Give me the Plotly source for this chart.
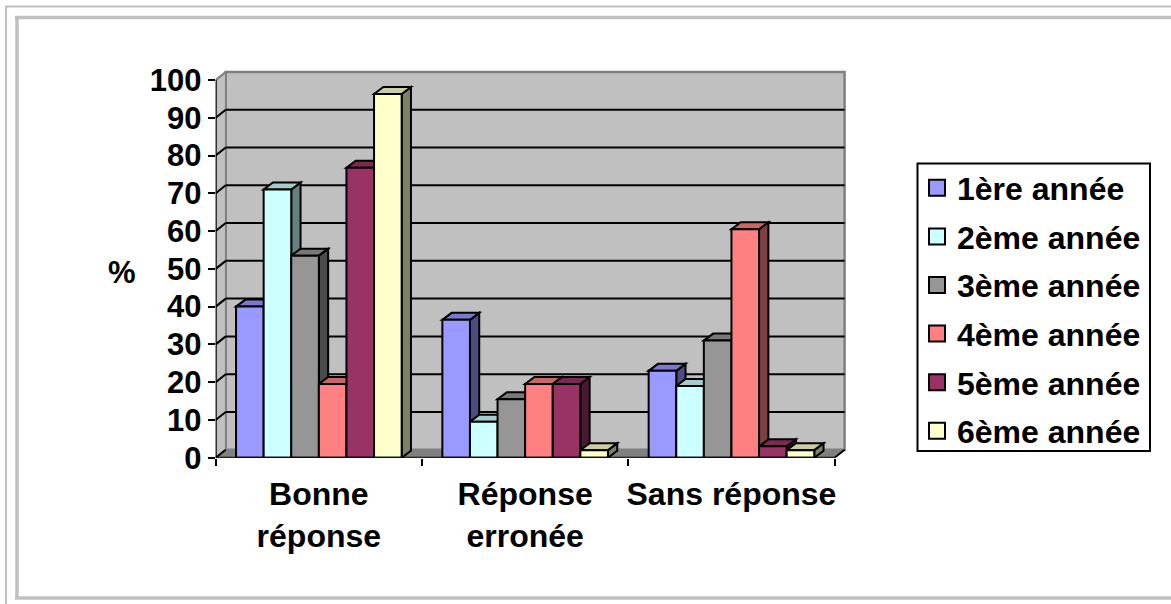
import plotly.graph_objects as go

categories = ["Bonne<br>réponse", "Réponse<br>erronée", "Sans réponse"]
series_names = ["1ère année", "2ème année", "3ème année", "4ème année", "5ème année", "6ème année"]
annee1 = [40, 36.5, 23]
annee2 = [71, 9.5, 19]
annee3 = [53.5, 15.5, 31]
annee4 = [19.5, 19.5, 60.5]
annee5 = [76.8, 19.5, 3]
annee6 = [96.3, 2, 2]
series_values = [annee1, annee2, annee3, annee4, annee5, annee6]
y_ticks = list(range(0, 101, 10))

front_colors = ["#9999FF", "#CCFFFF", "#969696", "#FF8080", "#993366", "#FFFFCC"]
top_colors = ["#7A7ACC", "#A3CCCC", "#787878", "#CC6666", "#7A2952", "#CCCCA3"]
side_colors = ["#4C4C80", "#668080", "#4B4B4B", "#804040", "#4C1933", "#808066"]

W, H = 1171, 604
LEFT, RIGHT, TOP, BOTTOM = 215.7, 850.0, 70.0, 457.7
PX_X = 206.3   # pixels per category
PX_Y = 3.777   # pixels per percent
xr = (-0.5, -0.5 + (RIGHT - LEFT) / PX_X)
yr = (0, (BOTTOM - TOP) / PX_Y)
WALL_DX, WALL_DY = 10 / PX_X, 8 / PX_Y
BAR_DX, BAR_DY = 9.3 / PX_X, 7 / PX_Y
BAR_W = 27.6 / PX_X
X0, X1 = -0.5, 2.5

shapes = []
def poly(pts, fill, line="black", width=2):
    d = "M" + " L".join(f"{x},{y}" for x, y in pts) + " Z"
    shapes.append(dict(type="path", path=d, xref="x", yref="y", fillcolor=fill,
                       line=dict(color=line, width=width), layer="below"))
def seg(a, b, color="black", width=2):
    shapes.append(dict(type="line", xref="x", yref="y", x0=a[0], y0=a[1], x1=b[0], y1=b[1],
                       line=dict(color=color, width=width), layer="below"))

# walls and floor
poly([(X0 + WALL_DX, WALL_DY), (X1 + WALL_DX, WALL_DY), (X1 + WALL_DX, 100 + WALL_DY), (X0 + WALL_DX, 100 + WALL_DY)],
     "#C0C0C0", "#808080", 2.5)
poly([(X0, 0), (X0 + WALL_DX, WALL_DY), (X0 + WALL_DX, 100 + WALL_DY), (X0, 100)], "#C0C0C0", "#808080", 1.5)
poly([(X0, 0), (X1, 0), (X1 + WALL_DX, WALL_DY), (X0 + WALL_DX, WALL_DY)], "#808080", "#808080", 1)
# gridlines on the back wall and the left wall
for t in y_ticks[1:-1]:
    seg((X0 + WALL_DX, t + WALL_DY), (X1 + WALL_DX, t + WALL_DY))
for t in y_ticks[:-1]:
    seg((X0, t), (X0 + WALL_DX, t + WALL_DY))
seg((X0, 100), (X0 + WALL_DX, 100 + WALL_DY), "#808080")
seg((X1, 0), (X1 + WALL_DX, WALL_DY))

# bar sides and tops, left to right
for c in range(len(categories)):
    for s, vals in enumerate(series_values):
        v = vals[c]
        x_left = c + (s - 3) * BAR_W
        x_right = x_left + BAR_W
        poly([(x_right, 0), (x_right + BAR_DX, BAR_DY), (x_right + BAR_DX, v + BAR_DY), (x_right, v)], side_colors[s])
        poly([(x_left, v), (x_right, v), (x_right + BAR_DX, v + BAR_DY), (x_left + BAR_DX, v + BAR_DY)], top_colors[s])

# decorative page frame
def frame(x0, y0, x1, y1, width):
    shapes.append(dict(type="line", xref="paper", yref="paper", x0=x0 / W, x1=x1 / W,
                       y0=1 - y0 / H, y1=1 - y1 / H, line=dict(color="#C0C0C0", width=width), layer="below"))
frame(5, 6.5, W, 6.5, 2)
frame(6, 6, 6, H, 2)
frame(15, 17.5, W, 17.5, 3.5)
frame(17, 16, 17, 598, 3.5)
frame(15, 598, W, 598, 3.5)
# legend box
shapes.append(dict(type="rect", xref="paper", yref="paper", x0=917.5 / W, x1=1150 / W,
                   y0=1 - 451 / H, y1=1 - 163.5 / H, fillcolor="white",
                   line=dict(color="black", width=2), layer="below"))

fig = go.Figure()
for s, name in enumerate(series_names):
    fig.add_trace(go.Bar(x=list(range(len(categories))), y=series_values[s], name=name,
                         marker=dict(color=front_colors[s], line=dict(color="black", width=2)),
                         showlegend=False))
# axis lines
fig.add_trace(go.Scatter(x=[X0, X0], y=[0, 100], mode="lines", line=dict(color="black", width=2),
                         cliponaxis=False, showlegend=False, hoverinfo="skip"))
fig.add_trace(go.Scatter(x=[X0, X1], y=[0, 0], mode="lines", line=dict(color="black", width=2),
                         cliponaxis=False, showlegend=False, hoverinfo="skip"))
# legend keys
for s, name in enumerate(series_names):
    fig.add_trace(go.Scatter(x=[None], y=[None], mode="markers", name=name, legendgroup=name,
                             marker=dict(symbol="square", size=16, color=front_colors[s],
                                         line=dict(color="black", width=2))))

FONT = "Liberation Sans"
SIZE = 32
fig.update_layout(
    width=W, height=H, autosize=False,
    margin=dict(l=0, r=0, t=0, b=0, autoexpand=False),
    paper_bgcolor="white", plot_bgcolor="white",
    barmode="group", bargap=1 - 6 * BAR_W, bargroupgap=0,
    shapes=shapes,
    font=dict(family=FONT, size=SIZE, color="black", weight="bold"),
    xaxis=dict(domain=[LEFT / W, RIGHT / W], range=list(xr), tickmode="array",
               tickvals=list(range(len(categories))), ticktext=categories,
               ticks="outside", ticklen=8, tickcolor="rgba(0,0,0,0)", tickwidth=2,
               showgrid=False, zeroline=False, showline=False,
               minor=dict(tickmode="array", tickvals=[-0.5, 0.5, 1.5, 2.5], ticks="outside",
                          ticklen=7, tickwidth=2, tickcolor="black", showgrid=False),
               tickfont=dict(family=FONT, size=SIZE, weight="bold")),
    yaxis=dict(domain=[1 - BOTTOM / H, 1 - TOP / H], range=list(yr), tickmode="array",
               tickvals=y_ticks, ticks="outside", ticklen=7, tickwidth=2, tickcolor="black",
               showgrid=False, zeroline=False, showline=False,
               tickfont=dict(family=FONT, size=31, weight="bold")),
    legend=dict(x=917 / W, xanchor="left", y=1 - 160.5 / H, yanchor="top", bgcolor="rgba(0,0,0,0)",
                borderwidth=0, tracegroupgap=4,
                font=dict(family=FONT, size=SIZE, weight="bold"), itemsizing="trace"),
    annotations=[dict(text="%", xref="paper", yref="paper", x=122 / W, y=1 - 272 / H,
                      showarrow=False, xanchor="center", yanchor="middle",
                      font=dict(family=FONT, size=31, weight="bold"))],
)
fig.write_html("out.html", config=dict(displayModeBar=False),
               post_script="document.body.style.margin='0';")
